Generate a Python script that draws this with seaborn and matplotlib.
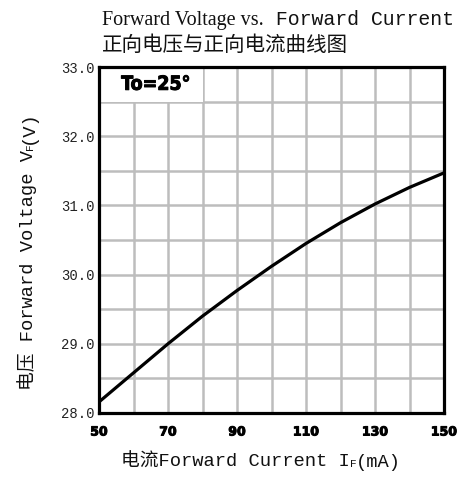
import numpy as np
import pandas as pd
import matplotlib
matplotlib.use('Agg')
import matplotlib.pyplot as plt
import matplotlib.patheffects as pe
import seaborn as sns
from matplotlib.patches import Rectangle
from matplotlib.transforms import IdentityTransform

# Values
current = [50, 60, 70, 80, 90, 100, 110, 120, 130, 140, 150]
voltage = [28.16, 28.58, 29.00, 29.40, 29.77, 30.12, 30.45, 30.75, 31.02, 31.26, 31.47]

x_ticks = [50, 70, 90, 110, 130, 150]
x_tick_labels = ['50', '70', '90', '110', '130', '150']
x_grid = [60, 80, 100, 120, 140]
y_ticks = [28, 29, 30, 31, 32, 33]
y_tick_labels = ['28.0', '29.0', '30.0', '31.0', '32.0', '33.0']
y_grid = [28.5, 29.5, 30.5, 31.5, 32.5]

sns.set_theme(style='white')
plt.rcParams['font.family'] = ['Liberation Mono', 'Noto Sans CJK SC']

W, H = 472, 482
fig = plt.figure(figsize=(W / 100, H / 100), dpi=100)
fig.patch.set_facecolor('white')
ax = fig.add_axes([99 / W, 1 - 413 / H, 345 / W, 346 / H])

df = pd.DataFrame({'current': current, 'voltage': voltage})
sns.lineplot(data=df, x='current', y='voltage', ax=ax, color='black', linewidth=2.3, zorder=3)

heavy = [pe.withStroke(linewidth=0.7, foreground='black')]

ax.set_xlim(50, 150)
ax.set_ylim(28, 33)
ax.set_xticks(x_ticks)
ax.set_xticklabels(x_tick_labels, fontfamily='DejaVu Sans', fontweight='bold', fontsize=9,
                   color='black', path_effects=heavy)
ax.set_xticks(x_grid, minor=True)
ax.set_yticks(y_ticks)
ax.set_yticklabels(y_tick_labels, fontfamily='Liberation Mono', fontsize=10, color='#222222')
ax.set_yticks(y_grid, minor=True)
ax.tick_params(which='both', length=0)
ax.tick_params(axis='x', pad=9)
ax.tick_params(axis='y', pad=3)
ax.grid(which='both', color='#bdbdbd', linewidth=1.8)
ax.set_axisbelow(True)
ax.set_xlabel('')
ax.set_ylabel('')
for sp in ax.spines.values():
    sp.set_color('black')
    sp.set_linewidth(2.3)
    sp.set_visible(True)
    sp.set_zorder(5)

# white label box in the top-left cell block
ax.add_patch(Rectangle((50, 32.5), 30, 0.5, facecolor='white', edgecolor='none', zorder=1.5))
ax.text(66.5, 32.75, 'To=25°', ha='center', va='center', fontfamily='DejaVu Sans',
        fontweight='bold', fontstretch='condensed', fontsize=14, zorder=4,
        color='black', path_effects=heavy)

renderer = fig.canvas.get_renderer()


def place_run(pieces, x, y, rotation=0, align='center'):
    # pieces: (text, size, family); x, y in pixels from top-left, y is baseline
    texts = []
    for s, size, fam in pieces:
        t = fig.text(0, 0, s, fontsize=size, family=fam, transform=IdentityTransform(),
                     ha='left', va='baseline', rotation=rotation, rotation_mode='anchor',
                     color='#111111')
        texts.append(t)
    lengths = []
    for t in texts:
        bb = t.get_window_extent(renderer)
        lengths.append(bb.width if rotation == 0 else bb.height)
    pos = -sum(lengths) / 2 if align == 'center' else 0
    for t, L in zip(texts, lengths):
        if rotation == 0:
            t.set_position((x + pos, H - y))
        else:
            t.set_position((x, H - y + pos))
        pos += L


mono = ['Liberation Mono', 'Noto Sans CJK SC']

# title lines
place_run([('Forward Voltage vs.', 14.5, 'Liberation Serif'),
           (' Forward Current', 14.3, mono)], 102, 25, align='left')
place_run([('正向电压与正向电流曲线图', 14.8, mono)], 102, 51, align='left')

# axis labels
place_run([('电流Forward Current I', 13.5, mono), ('F', 8, mono), ('(mA)', 13.5, mono)], 261, 467)
place_run([('电压 Forward Voltage V', 13.5, mono), ('F', 8, mono), ('(V)', 13.5, mono)],
          33, 250, rotation=90)

fig.savefig('out.png', dpi=100, facecolor='white')
